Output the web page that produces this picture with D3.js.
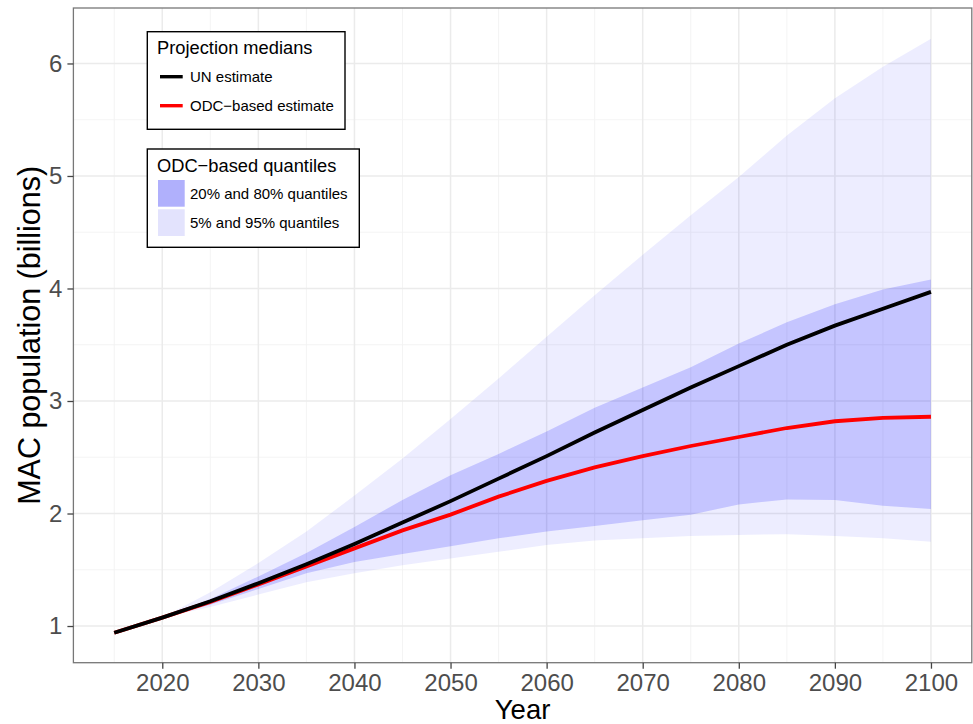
<!DOCTYPE html>
<html>
<head>
<meta charset="utf-8">
<script src="https://cdn.jsdelivr.net/npm/d3@7"></script>
<style>
  body { margin: 0; background: #fff; }
  svg { display: block; font-family: "Liberation Sans", Arial, Helvetica, sans-serif; }
</style>
</head>
<body>
<svg id="chart" width="973" height="724"></svg>
<script>
// ---- data (billions) ----
const years      = [2015, 2020, 2025, 2030, 2035, 2040, 2045, 2050, 2055, 2060, 2065, 2070, 2075, 2080, 2085, 2090, 2095, 2100];
const unMedian   = [0.94, 1.075, 1.22, 1.38, 1.55, 1.73, 1.92, 2.11, 2.31, 2.51, 2.72, 2.92, 3.12, 3.31, 3.50, 3.67, 3.82, 3.97];
const odcMedian  = [0.94, 1.075, 1.215, 1.37, 1.53, 1.69, 1.85, 1.99, 2.15, 2.29, 2.41, 2.51, 2.60, 2.68, 2.76, 2.82, 2.85, 2.86];
const bandYears  = [2020, 2025, 2030, 2035, 2040, 2045, 2050, 2055, 2060, 2065, 2070, 2075, 2080, 2085, 2090, 2095, 2100];
const q05        = [1.075, 1.17, 1.28, 1.39, 1.47, 1.54, 1.60, 1.66, 1.72, 1.76, 1.78, 1.80, 1.81, 1.815, 1.80, 1.78, 1.75];
const q20        = [1.075, 1.19, 1.33, 1.47, 1.57, 1.64, 1.71, 1.78, 1.84, 1.89, 1.94, 1.99, 2.08, 2.125, 2.12, 2.07, 2.04];
const q80        = [1.075, 1.24, 1.44, 1.65, 1.88, 2.12, 2.34, 2.53, 2.73, 2.94, 3.12, 3.30, 3.51, 3.70, 3.86, 3.99, 4.08];
const q95        = [1.075, 1.30, 1.56, 1.84, 2.16, 2.49, 2.84, 3.20, 3.57, 3.94, 4.30, 4.65, 4.99, 5.36, 5.69, 5.97, 6.22];
const xTicks     = [2020, 2030, 2040, 2050, 2060, 2070, 2080, 2090, 2100];
const xMinor     = [2015, 2025, 2035, 2045, 2055, 2065, 2075, 2085, 2095];
const yTicks     = [1, 2, 3, 4, 5, 6];
const yMinor     = [1.5, 2.5, 3.5, 4.5, 5.5];

// ---- layout ----
const L = 73.4, R = 971.8, T = 8, B = 662.7;
const x = d3.scaleLinear().domain([2010.75, 2104.25]).range([L, R]);
const y = d3.scaleLinear().domain([0.674, 6.493]).range([B, T]);

const svg = d3.select("#chart");

svg.append("defs").append("clipPath").attr("id", "panel")
  .append("rect").attr("x", L).attr("y", T).attr("width", R - L).attr("height", B - T);

// grid
const grid = svg.append("g");
grid.selectAll(".gxm").data(xMinor).join("line")
  .attr("x1", d => x(d)).attr("x2", d => x(d)).attr("y1", T).attr("y2", B)
  .attr("stroke", "#f3f3f3").attr("stroke-width", 0.9);
grid.selectAll(".gym").data(yMinor).join("line")
  .attr("y1", d => y(d)).attr("y2", d => y(d)).attr("x1", L).attr("x2", R)
  .attr("stroke", "#f3f3f3").attr("stroke-width", 0.9);
grid.selectAll(".gx").data(xTicks).join("line")
  .attr("x1", d => x(d)).attr("x2", d => x(d)).attr("y1", T).attr("y2", B)
  .attr("stroke", "#ebebeb").attr("stroke-width", 1.5);
grid.selectAll(".gy").data(yTicks).join("line")
  .attr("y1", d => y(d)).attr("y2", d => y(d)).attr("x1", L).attr("x2", R)
  .attr("stroke", "#ebebeb").attr("stroke-width", 1.5);

// ribbons
const bands = bandYears.map((yr, i) => ({ yr, q05: q05[i], q20: q20[i], q80: q80[i], q95: q95[i] }));
const g = svg.append("g").attr("clip-path", "url(#panel)");
g.append("path").datum(bands)
  .attr("d", d3.area().x(d => x(d.yr)).y0(d => y(d.q05)).y1(d => y(d.q95)))
  .attr("fill", "#0000ff").attr("fill-opacity", 0.07);
g.append("path").datum(bands)
  .attr("d", d3.area().x(d => x(d.yr)).y0(d => y(d.q20)).y1(d => y(d.q80)))
  .attr("fill", "#0000ff").attr("fill-opacity", 0.17);

// lines
const line = d3.line().x(d => x(d[0])).y(d => y(d[1]));
g.append("path").datum(years.map((yr, i) => [yr, odcMedian[i]]))
  .attr("d", line).attr("fill", "none").attr("stroke", "#ff0000").attr("stroke-width", 3.8);
g.append("path").datum(years.map((yr, i) => [yr, unMedian[i]]))
  .attr("d", line).attr("fill", "none").attr("stroke", "#000000").attr("stroke-width", 3.8);

// panel border
svg.append("rect").attr("x", L).attr("y", T).attr("width", R - L).attr("height", B - T)
  .attr("fill", "none").attr("stroke", "#777").attr("stroke-width", 1.3);

// axes
const xAxis = svg.append("g").attr("transform", `translate(0,${B})`)
  .call(d3.axisBottom(x).tickValues(xTicks).tickFormat(d3.format("d")).tickSize(6).tickPadding(5));
const yAxis = svg.append("g").attr("transform", `translate(${L},0)`)
  .call(d3.axisLeft(y).tickValues(yTicks).tickFormat(d3.format("d")).tickSize(6).tickPadding(5));
[xAxis, yAxis].forEach(a => {
  a.select(".domain").remove();
  a.selectAll(".tick line").attr("stroke", "#444").attr("stroke-width", 1.3);
  a.selectAll(".tick text").attr("fill", "#4d4d4d").attr("font-size", 24)
    .attr("font-family", "Liberation Sans, Arial, sans-serif");
});

// axis titles
svg.append("text").attr("x", (L + R) / 2).attr("y", 719).attr("text-anchor", "middle")
  .attr("font-size", 27.5).attr("fill", "#000").text("Year");
svg.append("text").attr("transform", `translate(40,${(T + B) / 2}) rotate(-90)`)
  .attr("text-anchor", "middle").attr("font-size", 30.5).attr("fill", "#000")
  .text("MAC population (billions)");

// legend 1
const lg1 = svg.append("g");
lg1.append("rect").attr("x", 147.3).attr("y", 31.7).attr("width", 197.7).attr("height", 97.6)
  .attr("fill", "#fff").attr("stroke", "#000").attr("stroke-width", 1.4);
lg1.append("text").attr("x", 157).attr("y", 54).attr("font-size", 18.3).text("Projection medians");
const lineKeys = [{ label: "UN estimate", color: "#000", y: 76.7 }, { label: "ODC\u2212based estimate", color: "#ff0000", y: 105.7 }];
lineKeys.forEach(k => {
  lg1.append("line").attr("x1", 160).attr("x2", 182.7).attr("y1", k.y).attr("y2", k.y)
    .attr("stroke", k.color).attr("stroke-width", 3.4);
  lg1.append("text").attr("x", 190).attr("y", k.y + 5.3).attr("font-size", 15).text(k.label);
});

// legend 2
const lg2 = svg.append("g");
lg2.append("rect").attr("x", 147.3).attr("y", 149).attr("width", 212).attr("height", 98.3)
  .attr("fill", "#fff").attr("stroke", "#000").attr("stroke-width", 1.4);
lg2.append("text").attr("x", 157).attr("y", 172.3).attr("font-size", 18.3).text("ODC\u2212based quantiles");
const fillKeys = [{ label: "20% and 80% quantiles", color: "#b0b0fc", y: 180 }, { label: "5% and 95% quantiles", color: "#e3e3fd", y: 209.3 }];
fillKeys.forEach(k => {
  lg2.append("rect").attr("x", 158).attr("y", k.y).attr("width", 26.7).attr("height", 26.7).attr("fill", k.color);
  lg2.append("text").attr("x", 190).attr("y", k.y + 19).attr("font-size", 15).text(k.label);
});
</script>
</body>
</html>
